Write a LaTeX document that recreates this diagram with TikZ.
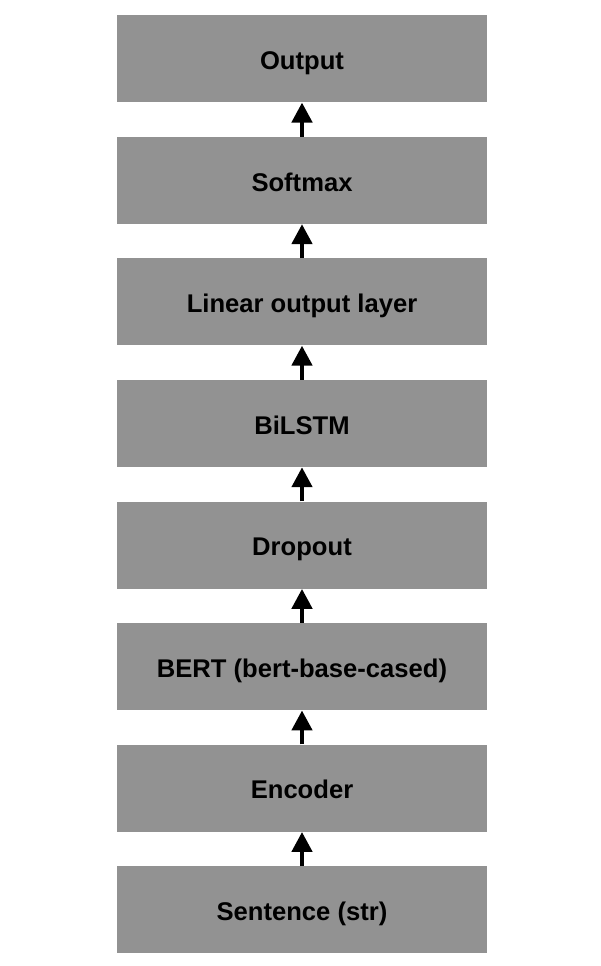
\documentclass[tikz,border=0pt]{standalone}
\usepackage{fontspec}
\setmainfont{Liberation Sans}
\usetikzlibrary{arrows.meta}
\begin{document}
\begin{tikzpicture}[x=0.75pt,y=-0.75pt,
  layer/.style={fill={rgb,255:red,146;green,146;blue,146}, draw=none, minimum width=277.5pt, minimum height=65.25pt, inner sep=0pt, text=black},
  lbl/.style={font=\bfseries\fontsize{19.2}{23}\selectfont, text=black, inner sep=0pt},
  flow/.style={line width=3.4pt, -{Triangle[width=15pt,length=15pt]}, black}]
\useasboundingbox (0,0) rectangle (600,966);
\foreach \n/\t/\y in {o/Output/15, s/Softmax/136.6, l/Linear output layer/258.1, b/BiLSTM/379.7, d/Dropout/501.3, e/{BERT (bert-base-cased)}/622.9, c/Encoder/744.4, i/{Sentence (str)}/866}{
  \node[layer, anchor=north] (\n) at (302,\y) {};
  \node[lbl] (\n t) at ([yshift=-3.5pt]\n.center) {\strut\t};
}
\draw[flow] (i.north) -- (c.south);
\draw[flow] (c.north) -- (e.south);
\draw[flow] (e.north) -- (d.south);
\draw[flow] (d.north) -- (b.south);
\draw[flow] (b.north) -- (l.south);
\draw[flow] (l.north) -- (s.south);
\draw[flow] (s.north) -- (o.south);
\end{tikzpicture}
\end{document}
